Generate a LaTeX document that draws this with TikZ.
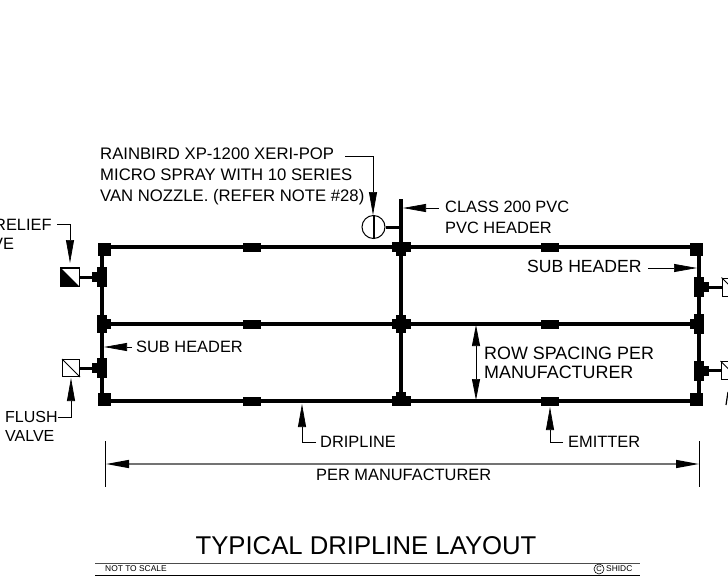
\documentclass[tikz,border=0pt]{standalone}
\usepackage{fontspec}
\setmainfont{Liberation Sans}
\usetikzlibrary{arrows.meta}
\tikzset{
  pipe/.style={line width=3.2pt},
  lateral/.style={line width=3pt},
  fit/.style={fill=black,inner sep=0pt,minimum width=#1},
  emit/.style={fill=black,inner sep=0pt,minimum width=18pt,minimum height=9pt},
  valve/.style={draw,line width=1pt,fill=white,inner sep=0pt,minimum size=18pt},
  leader/.style={line width=.7pt,-{Triangle[length=23pt,width=8pt]}},
  note/.style={inner sep=0pt,anchor=west,align=left,font=\fontsize{16.4}{20.8}\selectfont},
}
\begin{document}
\begin{tikzpicture}[x=1pt,y=-1pt]
        \useasboundingbox (0,0) rectangle (728,578);
        % Fittings on the three rows
        \foreach \ypos/\rowname in {247/top,324/mid,401/bot}{
          \node[fit=19pt,minimum height=10pt] (c\rowname) at (401,\ypos) {};
          \node[emit] (ea\rowname) at (251.5,\ypos) {};
          \node[emit] (eb\rowname) at (550,\ypos) {};
        }
        \node[fit=10pt,minimum height=18pt] (cmidv) at (401,324) {};
        \node[fit=10pt,minimum height=8pt] at (401,252) {};
        \node[fit=10pt,minimum height=8pt] at (401,396) {};
        % Left sub header
        \node[fit=13pt,minimum height=13pt] (ltop) at (104.5,249.5) {};
        \node[fit=10pt,minimum height=18pt] (lmid) at (102,324) {};
        \node[fit=12pt,minimum height=10pt] at (105,324) {};
        \node[fit=13pt,minimum height=13pt] (lbot) at (104.5,399.5) {};
        \node[fit=10pt,minimum height=20pt] (lrel) at (102,277) {};
        \node[fit=15pt,minimum height=10pt] (lrelh) at (99.5,277) {};
        \node[fit=10pt,minimum height=20pt] (lflu) at (102,368) {};
        \node[fit=15pt,minimum height=10pt] (lfluh) at (99.5,368) {};
        % Right sub header
        \node[fit=13pt,minimum height=13pt] (rtop) at (696.5,249.5) {};
        \node[fit=10pt,minimum height=20pt] (rmid) at (699,324) {};
        \node[fit=13pt,minimum height=10pt] at (696.5,324) {};
        \node[fit=13pt,minimum height=13pt] (rbot) at (696.5,399.5) {};
        \node[fit=10pt,minimum height=20pt] (rrel) at (699,287) {};
        \node[fit=15pt,minimum height=10pt] (rrelh) at (701.5,287) {};
        \node[fit=10pt,minimum height=20pt] (rflu) at (699,370.5) {};
        \node[fit=15pt,minimum height=10pt] (rfluh) at (701.5,370.5) {};
        % Pipes
        \draw[pipe] (ctop -| lmid) -- (ctop -| rmid) (lmid.center) -- (rmid.center) (cbot -| lmid) -- (cbot -| rmid);
        \draw[pipe] (ltop.center -| lmid) -- (lbot.center -| lmid);
        \draw[pipe] (rtop.center -| rmid) -- (rbot.center -| rmid);
        \coordinate (riser) at (401,199);
        \draw[pipe] (riser) -- (cbot.center);
        % Valves
        \node[valve] (relief) at (70,277) {};
        \fill (relief.north west) -- (relief.south east) -- (relief.south west) -- cycle;
        \draw[line width=1pt] (relief.north west) rectangle (relief.south east);
        \node[valve,minimum size=17pt] (flush) at (71,368) {};
        \draw[line width=.8pt] (flush.north west) -- (flush.south east);
        \node[valve] (vr) at (731,287) {};
        \draw[line width=.8pt] (vr.north west) -- (vr.south east);
        \node[valve] (vf) at (730,370.5) {};
        \draw[line width=.8pt] (vf.north west) -- (vf.south east);
        \draw[lateral] (relief) -- (lrelh);
        \draw[lateral] (flush) -- (lfluh);
        \draw[lateral] (vr) -- (rrelh);
        \draw[lateral] (vf) -- (rfluh);
        % Spray head on the riser
        \node[draw,circle,line width=1pt,minimum size=23pt,inner sep=0pt] (spray) at (373.5,227) {};
        \draw[line width=2pt] (spray.north) -- (spray.south);
        \draw[lateral] (spray.east) -- (spray.east -| riser);
        % Labels
        \node[note,font=\fontsize{16.7}{21}\selectfont] (lblspray) at (100,176.5) {RAINBIRD XP-1200 XERI-POP\\MICRO SPRAY WITH 10 SERIES\\VAN NOZZLE. (REFER NOTE \#28)};
        \node[note] (lblpvc) at (445,217) {CLASS 200 PVC\\PVC HEADER};
        \node[note,font=\fontsize{17.6}{20}\selectfont] (lblsubr) at (527,266) {SUB HEADER};
        \node[note] (lblsubl) at (136,346.5) {SUB HEADER};
        \node[note,font=\fontsize{17.9}{18.5}\selectfont] (lblrow) at (484,363) {ROW SPACING PER\\MANUFACTURER};
        \node[note] (lbldrip) at (320,442) {DRIPLINE};
        \node[note] (lblemit) at (568,442) {EMITTER};
        \node[note] (lblper) at (316,475) {PER MANUFACTURER};
        \node[note] (lblrel) at (-6,225) {RELIEF};
        \node[note] (lblve) at (-8,244) {VE};
        \node[note,font=\fontsize{16}{19}\selectfont] (lblflush) at (5,426.5) {FLUSH\\VALVE};
        % Leaders
        \coordinate (relbend) at (70,224);
        \coordinate (relend) at (70,263);
        \draw[leader] (57,224) -- (relbend) -- (relend);
        \coordinate (flubend) at (71,417);
        \coordinate (fluend) at (71,378);
        \draw[leader] (58,417) -- (flubend) -- (fluend);
        \coordinate (spraybend) at (373,156);
        \coordinate (sprayend) at (373,215);
        \draw[leader] (345,156) -- (spraybend) -- (sprayend);
        \coordinate (pvcend) at (403,208);
        \draw[leader] (439,208) -- (pvcend);
        \coordinate (subrend) at (697,268);
        \draw[leader] (648,268) -- (subrend);
        \coordinate (sublend) at (104,347);
        \draw[leader] (132,347) -- (sublend);
        \coordinate (dripbend) at (302,442);
        \coordinate (dripend) at (302,404);
        \draw[leader] (316,442) -- (dripbend) -- (dripend);
        \coordinate (emitbend) at (550,442);
        \coordinate (emitend) at (550,407);
        \draw[leader] (563,442) -- (emitbend) -- (emitend);
        % Dimensions
        \coordinate (rowa) at (476,325);
        \coordinate (rowb) at (476,400);
        \draw[leader,{Triangle[length=21pt,width=8pt]}-{Triangle[length=21pt,width=8pt]}] (rowa) -- (rowb);
        \coordinate (perl) at (106,464);
        \coordinate (perr) at (699,464);
        \draw[line width=1.4pt,black!55,{Triangle[length=23pt,width=8pt,black]}-{Triangle[length=23pt,width=8pt,black]}] (perl) -- (perr);
        \draw[line width=.7pt] (105,441) -- (105,487) (699,441) -- (699,487);
        % Cut off letter at the edge
        \draw[line width=1.2pt] (726,405) -- (728,392);
        % Title block
        \node[inner sep=0pt,font=\fontsize{25.7}{30}\selectfont] (title) at (366,546) {TYPICAL DRIPLINE LAYOUT};
        \draw[line width=1pt,black!70] (95,563) -- (640,563);
        \draw[line width=1pt] (95,575) -- (640,575);
        \node[note,font=\fontsize{8.4}{9}\selectfont] (nts) at (105,569) {NOT TO SCALE};
        \node[note,font=\fontsize{8.4}{9}\selectfont] (shidc) at (606,569) {SHIDC};
        \node[draw,circle,line width=.6pt,inner sep=0pt,minimum size=10pt,font=\fontsize{7.5}{8}\selectfont] (copyr) at (599,569) {C};
\end{tikzpicture}
\end{document}
